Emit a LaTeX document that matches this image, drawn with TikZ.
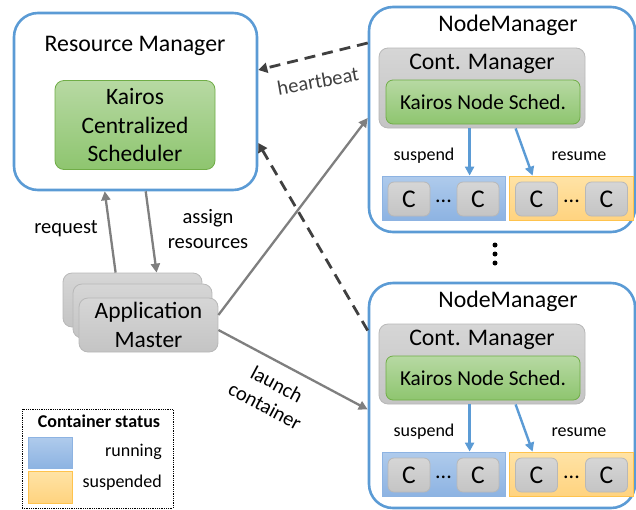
\documentclass[tikz,border=0pt]{standalone}
\usepackage{fontspec}
\setmainfont{Carlito}
\usetikzlibrary{arrows.meta}
\definecolor{nmblue}{HTML}{5B9BD5}
\definecolor{grnTop}{HTML}{B7D9A3}
\definecolor{grnBot}{HTML}{8EC56F}
\definecolor{grnLine}{HTML}{70AD47}
\definecolor{gryTop}{HTML}{D6D6D6}
\definecolor{gryBot}{HTML}{C4C4C4}
\definecolor{gryLine}{HTML}{B8B8B8}
\definecolor{runTop}{HTML}{AFCBEC}
\definecolor{runBot}{HTML}{8DB3E2}
\definecolor{runLine}{HTML}{8DB3E2}
\definecolor{susTop}{HTML}{FFE3A6}
\definecolor{susBot}{HTML}{FFD37F}
\definecolor{susLine}{HTML}{FFC34D}
\definecolor{arrGray}{HTML}{7F7F7F}
\definecolor{dashDark}{HTML}{404040}
\newcommand\fs[1]{\fontsize{#1}{#1}\selectfont\setlength{\baselineskip}{1.22\dimexpr #1pt\relax}}
\tikzset{
  bigbox/.style={draw=nmblue, line width=2.6pt, rounded corners=24pt, fill=white},
  greenbox/.style={draw=grnLine, line width=0.8pt, rounded corners=9pt, top color=grnTop, bottom color=grnBot},
  graybox/.style={draw=gryLine, line width=0.8pt, rounded corners=9pt, top color=gryTop, bottom color=gryBot},
  cbox/.style={graybox, rounded corners=6pt, minimum width=42pt, minimum height=34pt, inner sep=0pt, font=\fs{25.5}},
  runbox/.style={draw=runLine, line width=0.8pt, top color=runTop, bottom color=runBot},
  susbox/.style={draw=susLine, line width=0.8pt, top color=susTop, bottom color=susBot},
  flow/.style={draw=arrGray, line width=2.3pt, -{Triangle[length=9pt,width=9pt]}},
  beat/.style={draw=dashDark, line width=2.8pt, dash pattern=on 11pt off 7pt, -{Triangle[length=9pt,width=10pt]}},
  inner/.style={draw=nmblue, line width=2.4pt, -{Triangle[length=9pt,width=9pt]}},
  lbl/.style={font=\fs{20.5}, align=center, inner sep=0pt},
  slbl/.style={font=\fs{18}, inner sep=0pt},
}
% one NodeManager block: #1 = name suffix, #2 = vertical offset
\newcommand\nodemgr[2]{%
  \begin{scope}[yshift=-#2pt]
    \node[bigbox, minimum width=266pt, minimum height=225pt] (nm#1) at (502,119.5) {};
    \node[font=\fs{23.8}, inner sep=0pt] (nmt#1) at (508,25) {NodeManager};
    \node[graybox, minimum width=206pt, minimum height=80pt] (cm#1) at (482,88) {};
    \node[font=\fs{23.8}, inner sep=0pt] (cmt#1) at (482,64) {Cont. Manager};
    \node[greenbox, rounded corners=7pt, minimum width=194pt, minimum height=44pt, font=\fs{21.3}] (ks#1) at (483,102) {Kairos Node Sched.};
    \node[runbox, minimum width=123pt, minimum height=44pt] (cb#1) at (443.5,198) {};
    \node[susbox, minimum width=124pt, minimum height=44pt] (co#1) at (571,198) {};
    \node[cbox] (ca#1) at (409,199) {C};
    \node[cbox] (cz#1) at (478,199) {C};
    \node[cbox] (cc#1) at (536.5,199) {C};
    \node[cbox] (cy#1) at (606.5,199) {C};
    \node[font=\fs{22}, inner sep=0pt] (cd#1) at (443.5,201) {...};
    \node[font=\fs{22}, inner sep=0pt] (ce#1) at (571.5,201) {...};
    \node[slbl] (sp#1) at (424,156) {suspend};
    \node[slbl] (rs#1) at (579,156) {resume};
    \draw[inner] ([xshift=91pt]cm#1.south west) -- ([xshift=88pt]cb#1.north west);
    \draw[inner] ([xshift=137pt]cm#1.south west) -- ([xshift=24pt]co#1.north west);
  \end{scope}}
\begin{document}
\begin{tikzpicture}[x=1pt, y=-1pt]
\useasboundingbox (0,0) rectangle (636,509);

% Resource Manager
\node[bigbox, minimum width=243pt, minimum height=177pt] (rm) at (135.5,101.5) {};
\node[font=\fs{23.8}, inner sep=0pt] (rmt) at (135,46) {Resource Manager};
\node[greenbox, minimum width=160pt, minimum height=89pt, font=\fs{23.5}, align=center, inner sep=0pt] (ks) at (135,125)
  {Kairos\\Centralized\\Scheduler};

% NodeManagers
\nodemgr{1}{0}
\nodemgr{2}{276}
\node[circle, fill=black, inner sep=0pt, minimum size=5pt] (v1) at (495,245) {};
\node[circle, fill=black, inner sep=0pt, minimum size=5pt] (v2) at (495,254) {};
\node[circle, fill=black, inner sep=0pt, minimum size=5pt] (v3) at (495,263) {};

% Application Master stack
\node[graybox, minimum width=139pt, minimum height=54pt] (am3) at (132.5,300) {};
\node[graybox, minimum width=139pt, minimum height=54pt] (am2) at (142.5,311) {};
\node[graybox, minimum width=139pt, minimum height=54pt, font=\fs{23.5}, align=center, inner sep=0pt] (am1) at (148.5,325)
  {Application\\Master};

% requests between AM and RM
\draw[flow] ([xshift=53pt]am3.north west) -- ([xshift=92pt]rm.south west);
\draw[flow] ([xshift=133pt]rm.south west) -- ([xshift=94pt]am3.north west);
\node[lbl] (rq) at (66,229) {request};
\node[lbl] (asg) at (208,229) {assign\\resources};

% launch arrows
\draw[flow] ([yshift=10pt]am1.east) -- ([yshift=1.5pt]nm1.west);
\draw[flow] ([yshift=-5pt]am1.east) -- ([yshift=-14pt]nm2.west);
\node[lbl, rotate=-28] (lc) at (271,395) {launch\\container};

% heartbeats
\draw[beat] ([yshift=76.5pt]nm1.west) -- ([yshift=31.5pt]rm.east);
\draw[beat] ([yshift=65pt]nm2.west) -- ([yshift=-41.5pt]rm.east);
\node[lbl, text=dashDark, rotate=10] (hb) at (318,81) {heartbeat};

% legend
\node[draw=black, densely dotted, line width=0.8pt, minimum width=151pt, minimum height=99pt] (lg) at (97.5,458.5) {};
\node[font=\bfseries\fs{18}, inner sep=0pt] (lgt) at (99,421) {Container status};
\node[runbox, minimum width=44pt, minimum height=31pt] (lr) at (50,452.5) {};
\node[susbox, minimum width=44pt, minimum height=32pt] (ls) at (50,487) {};
\node[slbl, anchor=east] (lrt) at (162,452) {running};
\node[slbl, anchor=east] (lst) at (162,483) {suspended};
\end{tikzpicture}
\end{document}
